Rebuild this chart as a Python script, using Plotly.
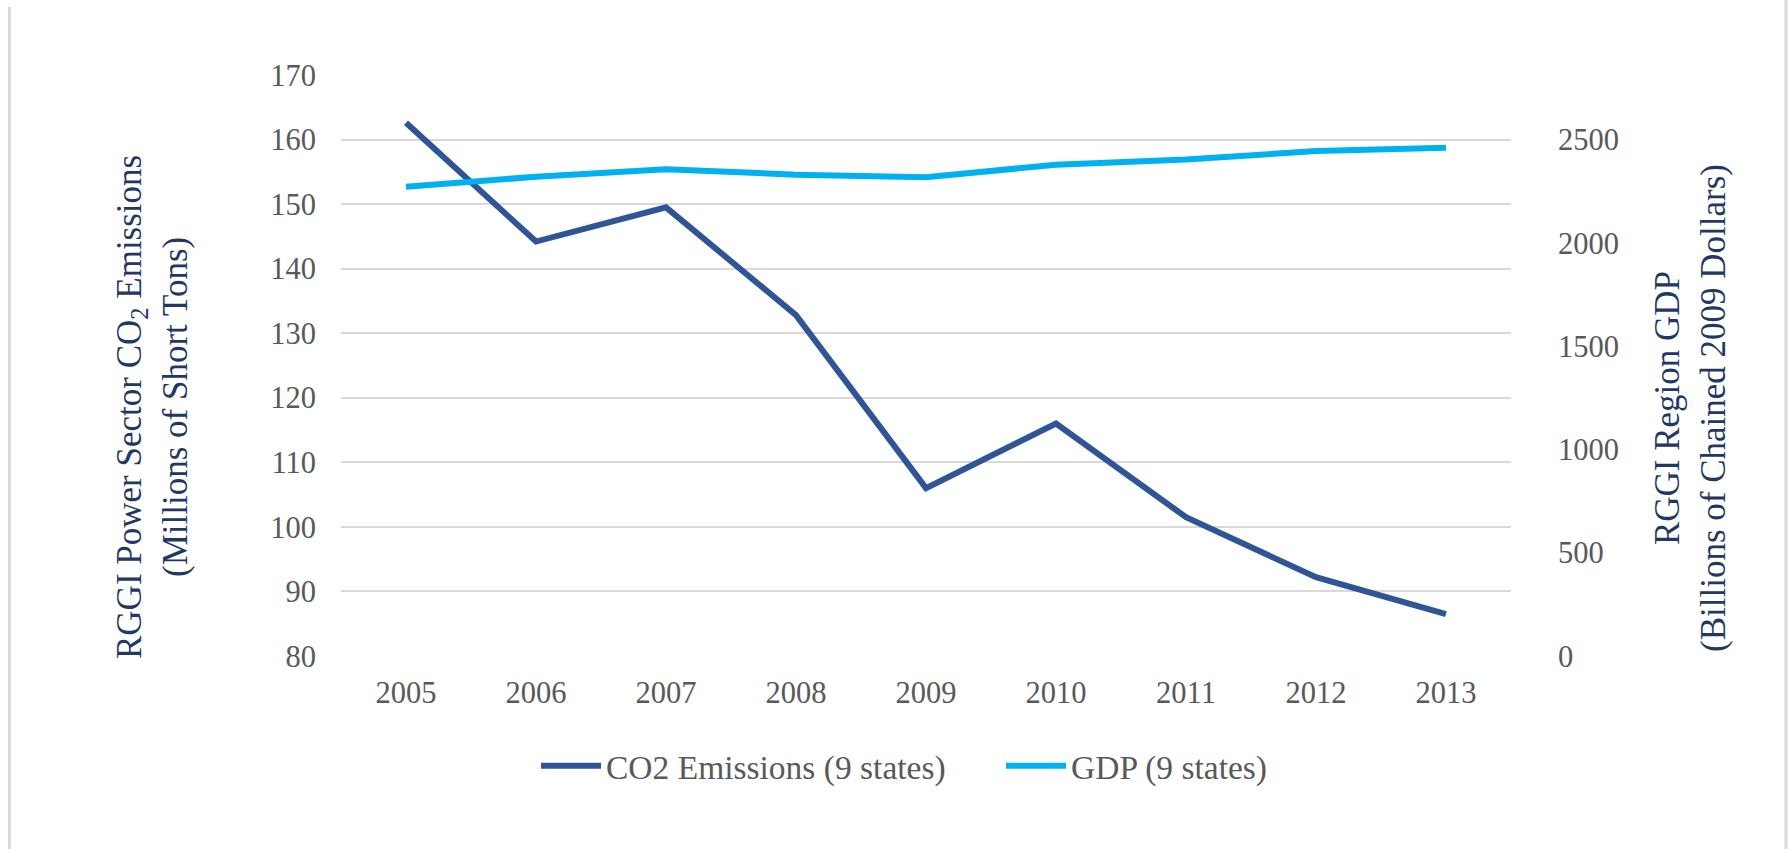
import plotly.graph_objects as go

years = ["2005", "2006", "2007", "2008", "2009", "2010", "2011", "2012", "2013"]
co2_emissions = [162.6, 144.2, 149.5, 132.8, 106.0, 116.0, 101.5, 92.2, 86.5]
gdp = [2272, 2320, 2356, 2330, 2318, 2378, 2403, 2444, 2460]
left_ticks = [80, 90, 100, 110, 120, 130, 140, 150, 160, 170]
right_ticks = [0, 500, 1000, 1500, 2000, 2500]

W, H = 1789, 849
L, R, T, B = 341, 1511, 75, 656  # plot area in px


def px_x(x):
    return (x - L) / (R - L)


def px_y(y):
    return (B - y) / (B - T)


FONT = "Liberation Serif, Times New Roman, serif"
TICK_COLOR = "#595959"
TITLE_COLOR = "#1F3864"

fig = go.Figure()
fig.add_trace(go.Scatter(
    x=years, y=co2_emissions, mode="lines", name="CO2 Emissions (9 states)",
    line=dict(color="#2F5597", width=6), yaxis="y", legend="legend"))
fig.add_trace(go.Scatter(
    x=years, y=gdp, mode="lines", name="GDP (9 states)",
    line=dict(color="#00B0F0", width=6), yaxis="y2", legend="legend2"))

legend_common = dict(orientation="h", yanchor="middle", xanchor="left",
                     font=dict(size=33.5, color=TICK_COLOR, family=FONT), itemwidth=60,
                     bgcolor="rgba(0,0,0,0)", borderwidth=0)

fig.update_layout(
    width=W, height=H,
    margin=dict(l=L, r=W - R, t=T, b=H - B, autoexpand=False),
    paper_bgcolor="white", plot_bgcolor="white",
    font=dict(family=FONT, color=TICK_COLOR),
    xaxis=dict(type="category", range=[-0.5, 8.5], showgrid=False, zeroline=False,
               showline=False, ticks="", tickfont=dict(size=30.5, color=TICK_COLOR),
               ticklabelstandoff=15, fixedrange=True),
    yaxis=dict(range=[80, 170], tickvals=left_ticks, showgrid=True, gridcolor="#D9D9D9",
               gridwidth=2, zeroline=False, showline=False, ticks="",
               tickfont=dict(size=30.5, color=TICK_COLOR), ticklabelstandoff=24,
               fixedrange=True),
    yaxis2=dict(range=[0, 2500 * 90 / 80], tickvals=right_ticks, overlaying="y", side="right",
                showgrid=False, zeroline=False, showline=False,
                ticks="outside", ticklen=40, tickcolor="rgba(0,0,0,0)",
                tickfont=dict(size=30.5, color=TICK_COLOR), fixedrange=True),
    legend=dict(x=px_x(536), y=px_y(766), **legend_common),
    legend2=dict(x=px_x(1001), y=px_y(766), **legend_common),
    showlegend=True,
)

fig.add_annotation(
    text="RGGI Power Sector CO<sub>2</sub> Emissions<br>(Millions of Short Tons)",
    xref="paper", yref="paper", x=px_x(152), y=px_y(407), xanchor="center", yanchor="middle",
    textangle=-90, showarrow=False, font=dict(size=35, color=TITLE_COLOR, family=FONT))
fig.add_annotation(
    text="RGGI Region GDP<br>(Billions of Chained 2009 Dollars)",
    xref="paper", yref="paper", x=px_x(1690), y=px_y(408), xanchor="center", yanchor="middle",
    textangle=-90, showarrow=False, font=dict(size=35, color=TITLE_COLOR, family=FONT))

# chart frame lines (left and right edges)
fig.add_shape(type="line", xref="paper", yref="paper", x0=px_x(9.5), x1=px_x(9.5),
              y0=px_y(7), y1=px_y(H), line=dict(color="#D9D9D9", width=3))
fig.add_shape(type="line", xref="paper", yref="paper", x0=px_x(1786), x1=px_x(1786),
              y0=px_y(0), y1=px_y(H), line=dict(color="#D9D9D9", width=3))

fig.write_html(
    "out.html",
    config={"displayModeBar": False},
    post_script="document.body.style.margin='0';document.body.style.overflow='hidden';",
)
